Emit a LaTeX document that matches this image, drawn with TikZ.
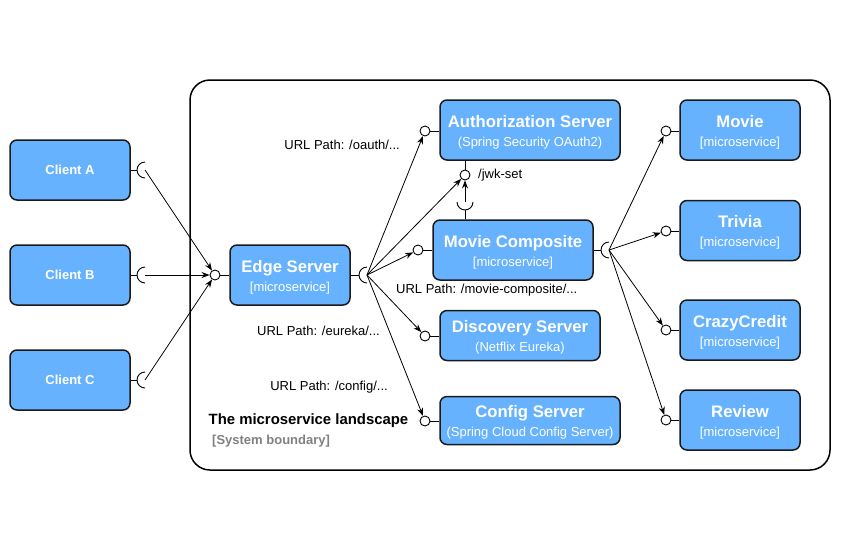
\documentclass[tikz,border=0pt]{standalone}
\usepackage{fontspec}
\setmainfont{Liberation Sans}
\usetikzlibrary{arrows.meta}
\definecolor{boxblue}{HTML}{66B2FF}
\definecolor{boxline}{HTML}{1A1A1A}
\definecolor{graytxt}{HTML}{808080}
\newcommand{\ttl}{\fontsize{16.7}{19}\selectfont\bfseries\rule{0pt}{16pt}}
\newcommand{\sbt}{\fontsize{13}{19}\selectfont\mdseries}
\begin{document}
\begin{tikzpicture}[x=1pt,y=-1pt,
  svc/.style={draw=boxline, fill=boxblue, line width=1.5pt, rounded corners=7pt,
    text=white, align=center, inner sep=0pt, font=\fontsize{13}{19}\selectfont},
  client/.style={svc, minimum width=120pt, minimum height=60pt, font=\fontsize{13}{15}\selectfont\bfseries},
  prov/.style={circle, draw=black, fill=white, line width=0.9pt, minimum size=10pt, inner sep=0pt},
  sock/.style={line width=0.9pt},
  arr/.style={line width=0.8pt, -{Stealth[length=8pt,width=6pt]}},
  lbl/.style={font=\fontsize{13}{15}\selectfont, inner sep=0pt},
]
\useasboundingbox (0,0) rectangle (851,542);

% system boundary
\node[draw=black, line width=1.5pt, rounded corners=20pt, minimum width=640pt, minimum height=390pt, inner sep=0pt] (boundary) at (510,275) {};
\node[anchor=west, inner sep=0pt, font=\fontsize{14.9}{16}\selectfont\bfseries] (bt) at (208.5,421) {The microservice landscape};
\node[anchor=west, inner sep=0pt, text=graytxt, font=\fontsize{13}{15}\selectfont\bfseries] (bs) at (212,441) {[System boundary]};

% clients
\node[client] (cA) at (70,170) {Client A};
\node[client] (cB) at (70,275) {Client B};
\node[client] (cC) at (70,380) {Client C};

% services
\node[svc, minimum width=120pt, minimum height=60pt] (edge) at (290,275) {{\ttl Edge Server}\\{\sbt [microservice]}};
\node[svc, minimum width=180pt, minimum height=60pt] (auth) at (530,130) {{\ttl Authorization Server}\\{\sbt (Spring Security OAuth2)}};
\node[svc, minimum width=160pt, minimum height=60pt] (mc) at (513,250) {{\ttl Movie Composite}\\{\sbt [microservice]}};
\node[svc, minimum width=160pt, minimum height=50pt] (disc) at (520,335.5) {{\ttl Discovery Server}\\{\sbt (Netflix Eureka)}};
\node[svc, minimum width=180pt, minimum height=48pt] (cfg) at (530,420.5) {{\ttl Config Server}\\{\sbt (Spring Cloud Config Server)}};
\node[svc, minimum width=120pt, minimum height=60pt] (mov) at (740,130) {{\ttl Movie}\\{\sbt [microservice]}};
\node[svc, minimum width=120pt, minimum height=60pt] (triv) at (740,230.5) {{\ttl Trivia}\\{\sbt [microservice]}};
\node[svc, minimum width=120pt, minimum height=60pt] (crazy) at (740,330) {{\ttl CrazyCredit}\\{\sbt [microservice]}};
\node[svc, minimum width=120pt, minimum height=60pt] (rev) at (740,420) {{\ttl Review}\\{\sbt [microservice]}};

% provided interfaces
\node[prov] (edgeC) at (215,275) {};
\node[prov] (authC) at (425,131) {};
\node[prov] (jwkC) at (465,175) {};
\node[prov] (mcC) at (418,250) {};
\node[prov] (discC) at (425,336) {};
\node[prov] (cfgC) at (425,421) {};
\node[prov] (movC) at (666,131) {};
\node[prov] (trivC) at (666,231) {};
\node[prov] (crazyC) at (666,330) {};
\node[prov] (revC) at (666,420) {};

\draw[sock] (edgeC) -- (edge.west |- edgeC);
\draw[sock] (authC) -- (auth.west |- authC);
\draw[sock] (auth.south -| jwkC) -- (jwkC);
\draw[sock] (mcC) -- (mc.west |- mcC);
\draw[sock] (discC) -- (disc.west |- discC);
\draw[sock] (cfgC) -- (cfg.west |- cfgC);
\draw[sock] (movC) -- (mov.west |- movC);
\draw[sock] (trivC) -- (triv.west |- trivC);
\draw[sock] (crazyC) -- (crazy.west |- crazyC);
\draw[sock] (revC) -- (rev.west |- revC);

% required sockets
\coordinate (sA) at (145,170);
\coordinate (sB) at (145,275);
\coordinate (sC) at (145,380);
\coordinate (sE) at (367,275);
\coordinate (sM) at (609,250);
\coordinate (sJ) at (465,202);
\foreach \c/\s in {cA/sA, cB/sB, cC/sC, edge/sE, mc/sM}{
  \draw[sock] (\c.east |- \s) -- ([xshift=-8pt]\s);
  \draw[sock] ([yshift=8pt]\s) arc[start angle=90, end angle=270, radius=8pt];
}
\draw[sock] (mc.north -| sJ) -- ([yshift=-8pt]sJ);
\draw[sock] ([xshift=-8pt]sJ) arc[start angle=180, end angle=360, radius=8pt];

% connectors
\draw[arr] (sA) -- (edgeC);
\draw[arr] (sB) -- (edgeC);
\draw[arr] (sC) -- (edgeC);
\draw[arr] (sE) -- (authC);
\draw[arr] (sE) -- (jwkC);
\draw[arr] (sE) -- (mcC);
\draw[arr] (sE) -- (discC);
\draw[arr] (sE) -- (cfgC);
\draw[arr] (sJ) -- (jwkC);
\draw[arr] (sM) -- (movC);
\draw[arr] (sM) -- (trivC);
\draw[arr] (sM) -- (crazyC);
\draw[arr] (sM) -- (revC);

% labels
\node[lbl, anchor=east] (l1) at (400,145) {URL Path: /oauth/...};
\node[lbl, anchor=west] (l2) at (396,290) {URL Path: /movie-composite/...};
\node[lbl, anchor=east] (l3) at (380,331) {URL Path: /eureka/...};
\node[lbl, anchor=east] (l4) at (388,387) {URL Path: /config/...};
\node[lbl, anchor=west] (l5) at (478,175) {/jwk-set};
\end{tikzpicture}
\end{document}
